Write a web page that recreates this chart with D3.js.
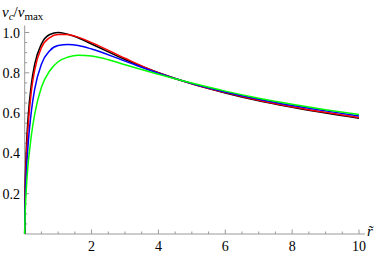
<!DOCTYPE html>
<html>
<head>
<meta charset="utf-8">
<script src="https://cdn.jsdelivr.net/npm/d3@7"></script>
<style>
  body { margin: 0; background: #fff; }
</style>
</head>
<body>
<div class="container"></div>
<script>
  var width = 382,
    height = 257;

  var serif = "'Liberation Serif', 'Times New Roman', 'DejaVu Serif', serif";

  // radius values (r tilde) where the curves were read
  var rBlack = [0, 0.01, 0.02, 0.05, 0.1, 0.2, 0.3, 0.5, 0.75, 1, 1.5, 2, 3, 4, 5, 6, 7, 8, 9, 10];
  var vBlack = [0, 0.198, 0.277, 0.426, 0.575, 0.745, 0.843, 0.943, 0.990, 1.0, 0.980, 0.943, 0.866, 0.800, 0.745, 0.700, 0.661, 0.629, 0.600, 0.575];

  var rRed = [0, 0.01, 0.02, 0.05, 0.1, 0.2, 0.3, 0.5, 0.75, 1, 1.25, 1.5, 2, 3, 4, 5, 6, 7, 8, 9, 10];
  var vRed = [0, 0.17, 0.245, 0.38, 0.53, 0.71, 0.815, 0.925, 0.975, 0.99, 0.99, 0.982, 0.950, 0.872, 0.800, 0.746, 0.702, 0.664, 0.632, 0.604, 0.578];

  var rBlue = [0, 0.01, 0.02, 0.05, 0.1, 0.2, 0.3, 0.5, 0.75, 1, 1.3, 1.6, 2, 3, 4, 5, 6, 7, 8, 9, 10];
  var vBlue = [0, 0.13, 0.19, 0.31, 0.44, 0.61, 0.72, 0.843, 0.91, 0.935, 0.94, 0.935, 0.918, 0.858, 0.798, 0.747, 0.705, 0.669, 0.638, 0.611, 0.586];

  var rGreen = [0, 0.01, 0.02, 0.05, 0.1, 0.15, 0.2, 0.3, 0.5, 0.75, 1, 1.3, 1.6, 2, 2.5, 3, 4, 5, 6, 7, 8, 9, 10];
  var vGreen = [0, 0.08, 0.13, 0.23, 0.345, 0.42, 0.49, 0.595, 0.728, 0.81, 0.855, 0.878, 0.887, 0.883, 0.865, 0.84, 0.793, 0.749, 0.709, 0.674, 0.644, 0.617, 0.593];

  var xTicks = [2, 4, 6, 8, 10];
  var yTicks = [0.2, 0.4, 0.6, 0.8, 1.0];

  var curves = [
    { r: rBlack, v: vBlack, color: "#000" },
    { r: rRed, v: vRed, color: "#f00" },
    { r: rBlue, v: vBlue, color: "#00f" },
    { r: rGreen, v: vGreen, color: "#0f0" }
  ];

  var x = d3.scaleLinear().domain([0, 10]).range([24.7, 359]);
  var y = d3.scaleLinear().domain([0, 1]).range([234, 32.5]);

  var svg = d3.select(".container").append("svg")
    .attr("width", width)
    .attr("height", height)
    .style("font-family", serif);

  var axisColor = "#999";

  // x axis line and ticks (ticks point up, into the plot)
  svg.append("line")
    .attr("x1", x(0)).attr("x2", x(10.18))
    .attr("y1", y(0)).attr("y2", y(0))
    .attr("stroke", axisColor).attr("stroke-width", 1);

  var xMinor = d3.range(0.5, 10.01, 0.5).filter(function(d) { return d % 2 !== 0; });
  svg.selectAll(".xminor").data(xMinor).enter().append("line")
    .attr("x1", function(d) { return x(d); }).attr("x2", function(d) { return x(d); })
    .attr("y1", y(0)).attr("y2", y(0) - 2.5)
    .attr("stroke", axisColor);
  svg.selectAll(".xmajor").data(xTicks).enter().append("line")
    .attr("x1", function(d) { return x(d); }).attr("x2", function(d) { return x(d); })
    .attr("y1", y(0)).attr("y2", y(0) - 4.5)
    .attr("stroke", axisColor);
  svg.selectAll(".xlab").data(xTicks).enter().append("text")
    .attr("x", function(d) { return x(d); })
    .attr("y", 251)
    .attr("text-anchor", "middle")
    .attr("font-family", serif)
    .style("font-size", "14px")
    .text(function(d) { return d; });

  // y axis line and ticks (ticks point right)
  svg.append("line")
    .attr("x1", x(0)).attr("x2", x(0))
    .attr("y1", y(0)).attr("y2", y(1.035))
    .attr("stroke", axisColor).attr("stroke-width", 1);

  var yMinor = d3.range(1, 21).map(function(i) { return i * 0.05; })
    .filter(function(d, i) { return (i + 1) % 4 !== 0; });
  svg.selectAll(".yminor").data(yMinor).enter().append("line")
    .attr("x1", x(0)).attr("x2", x(0) + 2.5)
    .attr("y1", function(d) { return y(d); }).attr("y2", function(d) { return y(d); })
    .attr("stroke", axisColor);
  svg.selectAll(".ymajor").data(yTicks).enter().append("line")
    .attr("x1", x(0)).attr("x2", x(0) + 4.5)
    .attr("y1", function(d) { return y(d); }).attr("y2", function(d) { return y(d); })
    .attr("stroke", axisColor);
  svg.selectAll(".ylab").data(yTicks).enter().append("text")
    .attr("x", 20)
    .attr("y", function(d) { return y(d) + 5; })
    .attr("text-anchor", "end")
    .attr("font-family", serif)
    .style("font-size", "14px")
    .text(function(d) { return d3.format(".1f")(d); });

  // curves
  var line = d3.line()
    .x(function(d) { return x(d[0]); })
    .y(function(d) { return y(d[1]); })
    .curve(d3.curveMonotoneX);

  svg.selectAll(".curve").data(curves).enter().append("path")
    .attr("fill", "none")
    .attr("stroke", function(d) { return d.color; })
    .attr("stroke-width", 1.5)
    .attr("d", function(d) {
      return line(d.r.map(function(r, i) { return [r, d.v[i]]; }));
    });

  // axis labels
  var yl = svg.append("text")
    .attr("x", 2)
    .attr("y", 17)
    .attr("font-family", serif)
    .style("font-size", "15px");
  yl.append("tspan").style("font-style", "italic").text("v");
  yl.append("tspan").style("font-style", "italic").style("font-size", "11px").attr("dy", 3).text("c");
  yl.append("tspan").attr("dy", -3).text("/");
  yl.append("tspan").style("font-style", "italic").text("v");
  yl.append("tspan").style("font-size", "11px").attr("dy", 3).text("max");

  svg.append("text")
    .attr("x", 367)
    .attr("y", 236)
    .attr("font-family", serif)
    .style("font-size", "15px")
    .style("font-style", "italic")
    .text("r\u0303");
</script>
</body>
</html>
